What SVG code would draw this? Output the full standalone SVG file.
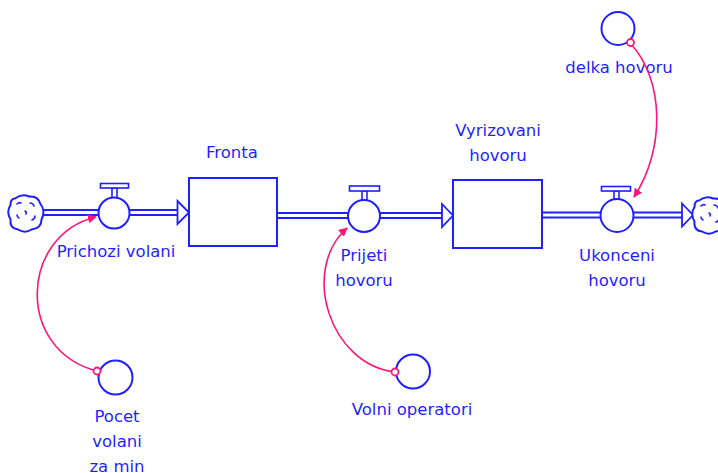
<svg xmlns="http://www.w3.org/2000/svg" width="718" height="473" viewBox="0 0 718 473">
  <style>
    .lbl { font-family: "DejaVu Sans", sans-serif; font-size: 16.5px; fill: #1f1fff; text-anchor: middle; }
    .stock { fill: #ffffff; stroke: #1f1fff; stroke-width: 2; }
    .pipe-o { fill: none; stroke: #1f1fff; stroke-width: 7; }
    .pipe-i { fill: none; stroke: #ffffff; stroke-width: 3; }
    .valve { fill: #ffffff; stroke: #1f1fff; stroke-width: 2; }
    .handle { fill: #ffffff; stroke: #1f1fff; stroke-width: 1.6; }
    .head { fill: #ffffff; stroke: #1f1fff; stroke-width: 1.8; stroke-linejoin: miter; }
    .aux { fill: #ffffff; stroke: #1f1fff; stroke-width: 2; }
    .cloud { fill: #ffffff; stroke: #1f1fff; stroke-width: 2; }
    .cloud-in { fill: none; stroke: #1f1fff; stroke-width: 1.6; stroke-linecap: round; }
    .link { fill: none; stroke: #ff1478; stroke-width: 1.6; }
    .tail { fill: #ffffff; stroke: #ff1478; stroke-width: 1.8; }
  </style>
  <defs>
    <marker id="lnk" viewBox="0 0 10 10" refX="9" refY="5" markerWidth="9" markerHeight="9" markerUnits="userSpaceOnUse" orient="auto">
      <path d="M0,0 L10,5 L0,10 z" fill="#ff1478"/>
    </marker>
    <g id="cloudShape">
      <path class="cloud" d="M-11,-14.5 Q-4,-20 3,-16.5 Q12,-17.5 14.5,-9 Q20,-2 15.5,6.5 Q15.5,15.5 5.5,16.5 Q-1,21 -8,16.5 Q-16.5,15.5 -15.5,6.5 Q-20,-1 -15.5,-8 Q-15.5,-14.5 -11,-14.5 z"/>
      <path class="cloud-in" d="M-9,-9 q2,-2 4,-1 M4,-10 q3,0 4,3 M9,3 q0,3 -3,4 M-7,5 q-2,-1 -2,-3 M-1,-2 q2,1 1,3"/>
    </g>
  </defs>

  <!-- material pipes -->
  <g id="pipes">
    <path class="pipe-o" d="M40,212.5 H98 M130,212.5 H179"/>
    <path class="pipe-i" d="M40,212.5 H98 M130,212.5 H179"/>
    <path class="pipe-o" d="M277,215.5 H348 M380,215.5 H443"/>
    <path class="pipe-i" d="M277,215.5 H348 M380,215.5 H443"/>
    <path class="pipe-o" d="M542,215 H601 M634,215 H683"/>
    <path class="pipe-i" d="M542,215 H601 M634,215 H683"/>
    <polygon class="head" points="177.5,201 189,212.5 177.5,224"/>
    <polygon class="head" points="442,204 453,215.5 442,227"/>
    <polygon class="head" points="682,203.5 693,215 682,226.5"/>
  </g>

  <!-- sources and sinks -->
  <g id="source-cloud"><use href="#cloudShape" x="26" y="213"/></g>
  <g id="sink-cloud"><use href="#cloudShape" x="710" y="215"/></g>

  <!-- stocks -->
  <g id="fronta">
    <rect class="stock" x="189" y="178" width="88" height="68"/>
    <text class="lbl" x="232" y="158">Fronta</text>
  </g>
  <g id="vyrizovani-hovoru">
    <rect class="stock" x="453" y="180" width="89" height="68"/>
    <text class="lbl" x="498" y="136">Vyrizovani</text>
    <text class="lbl" x="498" y="161">hovoru</text>
  </g>

  <!-- flows -->
  <g id="prichozi-volani">
    <rect class="handle" x="112" y="188" width="5" height="10"/>
    <rect class="handle" x="100.5" y="183.5" width="28" height="4.5"/>
    <circle class="valve" cx="114" cy="213" r="15.5"/>
    <text class="lbl" x="116" y="257">Prichozi volani</text>
  </g>
  <g id="prijeti-hovoru">
    <rect class="handle" x="362" y="191" width="5" height="10"/>
    <rect class="handle" x="349.5" y="186" width="30" height="5"/>
    <circle class="valve" cx="364" cy="216" r="16"/>
    <text class="lbl" x="364" y="261">Prijeti</text>
    <text class="lbl" x="364" y="286">hovoru</text>
  </g>
  <g id="ukonceni-hovoru">
    <rect class="handle" x="614" y="191" width="5" height="9"/>
    <rect class="handle" x="601.5" y="186.5" width="29" height="4.5"/>
    <circle class="valve" cx="617" cy="215.5" r="16.5"/>
    <text class="lbl" x="617" y="261">Ukonceni</text>
    <text class="lbl" x="617" y="286">hovoru</text>
  </g>

  <!-- auxiliaries -->
  <g id="delka-hovoru">
    <circle class="aux" cx="618" cy="28.5" r="16.5"/>
    <text class="lbl" x="619" y="73">delka hovoru</text>
  </g>
  <g id="pocet-volani-za-min">
    <circle class="aux" cx="115.5" cy="377.5" r="17"/>
    <text class="lbl" x="117" y="422">Pocet</text>
    <text class="lbl" x="117" y="447">volani</text>
    <text class="lbl" x="117" y="472">za min</text>
  </g>
  <g id="volni-operatori">
    <circle class="aux" cx="413" cy="371.5" r="17"/>
    <text class="lbl" x="412" y="415">Volni operatori</text>
  </g>

  <!-- information links -->
  <g id="connectors">
    <path class="link" d="M97,371 C15,350 20,235 96,217" marker-end="url(#lnk)"/>
    <path class="link" d="M395,372 C330,365 300,270 347,228" marker-end="url(#lnk)"/>
    <path class="link" d="M630,43 C665,80 665,150 634,197" marker-end="url(#lnk)"/>
    <circle class="tail" cx="97" cy="371" r="3.5"/>
    <circle class="tail" cx="395" cy="372" r="3.5"/>
    <circle class="tail" cx="630.5" cy="42.5" r="3.5"/>
  </g>
</svg>
